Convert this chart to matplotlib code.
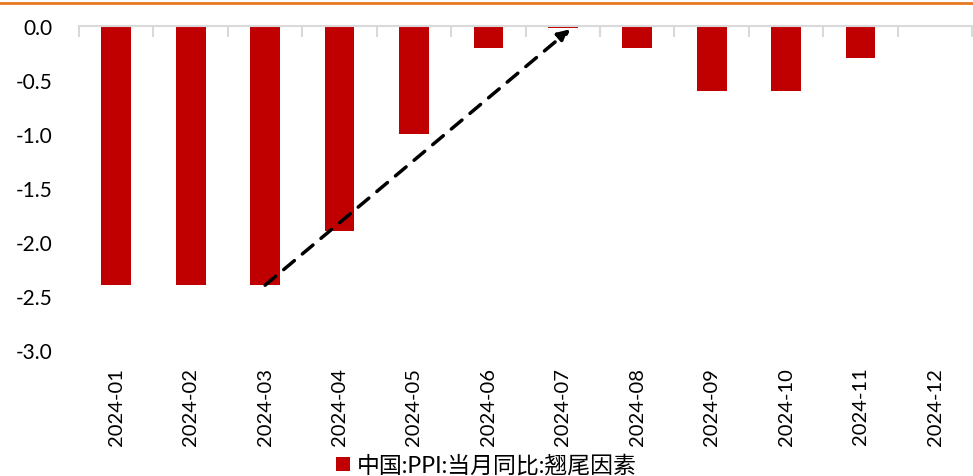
import matplotlib.pyplot as plt
from matplotlib.lines import Line2D
import numpy as np

plt.rcParams['font.family'] = ['Lato', 'Noto Sans CJK SC', 'DejaVu Sans']

months = ['2024-01', '2024-02', '2024-03', '2024-04', '2024-05', '2024-06',
          '2024-07', '2024-08', '2024-09', '2024-10', '2024-11', '2024-12']
values = [-2.4, -2.4, -2.4, -1.9, -1.0, -0.2, -0.02, -0.2, -0.6, -0.6, -0.3, 0.0]
series_name = '中国:PPI:当月同比:翘尾因素'

fig = plt.figure(figsize=(9.73, 4.77), dpi=100)
ax = fig.add_axes([0.0812, 0.2642, 0.918, 0.6792])

x = np.arange(len(months))
ax.bar(x, values, width=0.4, color='#C00000', label=series_name, zorder=2)

ax.set_xlim(-0.5, len(months) - 0.5)
ax.set_ylim(-3.0, 0.0)
ax.set_yticks(np.arange(-3.0, 0.01, 0.5))
ax.set_yticklabels([f'{v:.1f}' for v in np.arange(-3.0, 0.01, 0.5)], fontsize=15)
ax.tick_params(axis='y', length=0, pad=19)

# category labels at centers, tick marks at boundaries
ax.set_xticks(x)
ax.set_xticklabels(months, rotation=90, fontsize=14.5)
ax.tick_params(axis='x', which='major', length=0, pad=12)
ax.set_xticks(np.arange(-0.5, len(months), 1.0), minor=True)
ax.tick_params(axis='x', which='minor', length=8, width=1.5, color='#D9D9D9', direction='in')

# axis line at zero (top), ticks pointing down into plot
ax.spines['top'].set_visible(True)
ax.spines['top'].set_color('#D9D9D9')
ax.spines['top'].set_linewidth(1.5)
ax.xaxis.set_ticks_position('top')
ax.tick_params(axis='x', which='major', labeltop=False, labelbottom=True)
for s in ['left', 'right', 'bottom']:
    ax.spines[s].set_visible(False)

# dashed trend arrow
ax.annotate('', xy=(6.1, -0.03), xytext=(2.0, -2.4),
            arrowprops=dict(arrowstyle='-|>', linestyle=(0, (4, 3)), color='black',
                            lw=2.5, mutation_scale=18, shrinkA=0, shrinkB=0))

leg = fig.legend(loc='center', bbox_to_anchor=(0.5, 1 - 466 / 477), frameon=False,
                 fontsize=16.5, handlelength=0.6, handleheight=0.6, handletextpad=0.3,
                 borderpad=0)

fig.add_artist(Line2D([0, 1], [0.992, 0.992], color='#E87722', lw=2, transform=fig.transFigure))

fig.savefig('out.png', dpi=100)
